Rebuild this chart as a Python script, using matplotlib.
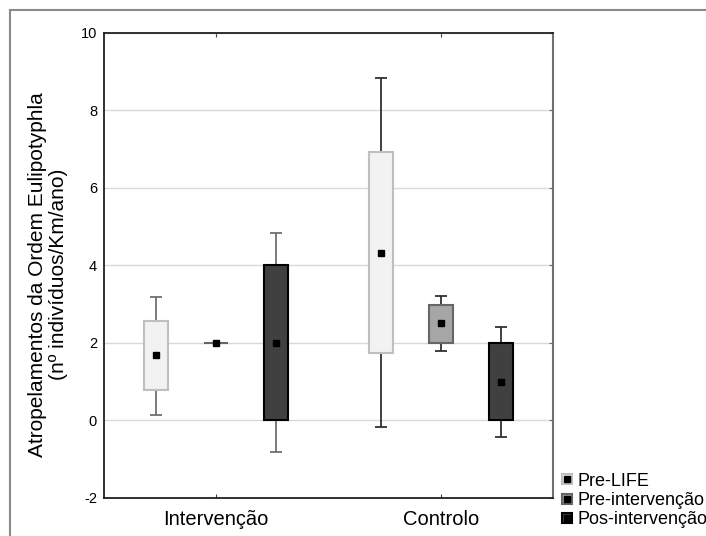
import matplotlib
matplotlib.use("Agg")
import matplotlib.pyplot as plt
from matplotlib.lines import Line2D
from matplotlib.legend_handler import HandlerTuple
import numpy as np

plt.rcParams['font.family'] = ['Liberation Sans', 'DejaVu Sans']
plt.rcParams['axes.unicode_minus'] = False

groups = ["Intervenção", "Controlo"]
series = ["Pre-LIFE", "Pre-intervenção", "Pos-intervenção"]

# mean, box (lower/upper) and whisker (lower/upper) per series, one value per group
means = {
    "Pre-LIFE": [1.68, 4.33],
    "Pre-intervenção": [2.0, 2.51],
    "Pos-intervenção": [2.0, 0.99],
}
box_low = {
    "Pre-LIFE": [0.78, 1.74],
    "Pre-intervenção": [2.0, 2.0],
    "Pos-intervenção": [0.0, 0.0],
}
box_high = {
    "Pre-LIFE": [2.56, 6.92],
    "Pre-intervenção": [2.0, 2.99],
    "Pos-intervenção": [4.0, 2.0],
}
whisk_low = {
    "Pre-LIFE": [0.15, -0.17],
    "Pre-intervenção": [2.0, 1.8],
    "Pos-intervenção": [-0.81, -0.42],
}
whisk_high = {
    "Pre-LIFE": [3.19, 8.84],
    "Pre-intervenção": [2.0, 3.2],
    "Pos-intervenção": [4.83, 2.41],
}

fills = {"Pre-LIFE": "#f2f2f2", "Pre-intervenção": "#a6a6a6", "Pos-intervenção": "#404040"}
edges = {"Pre-LIFE": "#bfbfbf", "Pre-intervenção": "#666666", "Pos-intervenção": "#000000"}
whisk_colors = ["#707070", "#303030"]

fig = plt.figure(figsize=(7.06, 5.36), dpi=100)
ax = fig.add_axes([0.1473, 0.0709, 0.636, 0.868])

offsets = [-0.267, 0.0, 0.267]
width = 0.107
xg = np.arange(len(groups))

for s, off in zip(series, offsets):
    for g in range(len(groups)):
        x = xg[g] + off
        m = means[s][g]
        ax.errorbar([x], [m], yerr=[[m - whisk_low[s][g]], [whisk_high[s][g] - m]],
                    fmt="none", ecolor=whisk_colors[g], elinewidth=1.3,
                    capsize=4.3, capthick=1.3, zorder=2)
    lo = np.array(box_low[s])
    hi = np.array(box_high[s])
    ax.bar(xg + off, hi - lo, bottom=lo, width=width, color=fills[s],
           edgecolor=edges[s], linewidth=1.5, zorder=3)
    ax.plot(xg + off, means[s], "s", color="black", ms=5, zorder=4)

ax.set_xlim(-0.5, 1.5)
ax.set_ylim(-2, 10)
ax.set_xticks(xg)
ax.set_xticklabels(groups, fontsize=14.5)
ax.set_yticks(np.arange(-2, 11, 2))
ax.tick_params(axis="y", labelsize=10.5, left=False, right=True, direction="in",
               length=3, color="#707070", pad=5)
ax.tick_params(axis="x", top=True, bottom=True, direction="in", length=3,
               color="#404040", pad=9)
ax.yaxis.grid(True, color="#d9d9d9", linewidth=1)
ax.set_axisbelow(True)
for sp in ["left", "top", "bottom"]:
    ax.spines[sp].set_color("#202020")
    ax.spines[sp].set_linewidth(1.3)
ax.spines["right"].set_color("#707070")
ax.spines["right"].set_linewidth(1.5)

ax.set_ylabel("Atropelamentos da Ordem Eulipotyphla\n(nº indivíduos/Km/ano)",
              fontsize=15, linespacing=1.15)
ax.yaxis.set_label_coords(-0.124, 0.48)
ax.yaxis.label.set_verticalalignment("center")

handles = []
for s in series:
    outer = Line2D([], [], marker="s", linestyle="none", ms=7.5, mfc=fills[s],
                   mec=edges[s], mew=1.5)
    inner = Line2D([], [], marker="s", linestyle="none", ms=4.3, color="black")
    handles.append((outer, inner))
fig.legend(handles, series, handler_map={tuple: HandlerTuple(ndivide=1)},
           loc="upper left", bbox_to_anchor=(0.793, 0.118), frameon=False,
           fontsize=13, handlelength=0.8, handletextpad=0.15, labelspacing=0.12,
           borderpad=0, borderaxespad=0)

fig.add_artist(Line2D([10 / 706, 1], [1 - 10 / 536, 1 - 10 / 536], color="#8a8a8a", lw=1.5))
fig.add_artist(Line2D([10 / 706, 10 / 706], [0, 1 - 10 / 536], color="#8a8a8a", lw=1.5))

fig.savefig("out.png", dpi=100)
